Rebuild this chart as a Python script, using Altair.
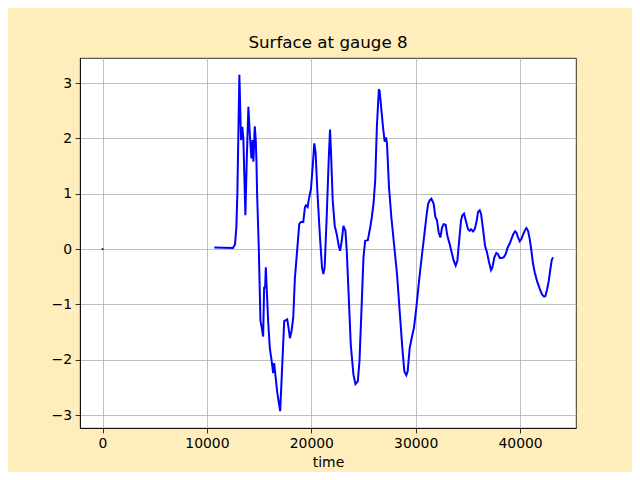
import altair as alt
import pandas as pd

time = [10705, 12500, 12692, 12820, 12917, 13109, 13269, 13397, 13494, 13686,
        13814, 13974, 14103, 14263, 14359, 14455, 14583, 14679, 14744, 14808,
        14968, 15128, 15256, 15385, 15481, 15577, 15641, 15769, 15865, 16026,
        16186, 16346, 16442, 16538, 16731, 17019, 17147, 17404, 17692, 17820,
        17949, 18109, 18269, 18429, 18590, 18846, 19006, 19231, 19391, 19487,
        19647, 19744, 19968, 20128, 20288, 20417, 20577, 20833, 21026, 21154,
        21282, 21474, 21667, 21795, 21891, 22051, 22244, 22436, 22628, 22756,
        22917, 23077, 23269, 23397, 23590, 23782, 24038, 24231, 24455, 24615,
        24840, 25000, 25160, 25417, 25641, 25801, 25962, 26122, 26282, 26474,
        26550, 26869, 27029, 27157, 27252, 27444, 27668, 27987, 28211, 28466,
        28722, 28914, 29105, 29233, 29425, 29649, 29840, 30064, 30319, 30575,
        30799, 31022, 31182, 31342, 31502, 31725, 31885, 32045, 32204, 32364,
        32524, 32684, 32875, 33035, 33259, 33450, 33642, 33834, 33994, 34153,
        34345, 34473, 34633, 34792, 35016, 35176, 35304, 35495, 35655, 35815,
        35974, 36134, 36262, 36454, 36645, 36837, 37029, 37220, 37348, 37540,
        37732, 37891, 38051, 38211, 38435, 38626, 38818, 39010, 39169, 39329,
        39521, 39649, 39808, 39968, 40128, 40288, 40447, 40607, 40767, 40927,
        41086, 41246, 41406, 41629, 41885, 42109, 42300, 42428, 42588, 42748,
        42907, 43035, 43163]

surface = [0.03, 0.02, 0.09, 0.39, 1.0, 3.15, 1.97, 2.21, 1.97, 0.61,
           1.6, 2.57, 2.09, 1.64, 1.97, 1.58, 2.22, 1.97, 1.6, 1.0,
           0.03, -1.3, -1.42, -1.58, -0.7, -0.7, -0.33, -0.88, -1.3, -1.79,
           -2.0, -2.24, -2.06, -2.24, -2.58, -2.93, -2.39, -1.3, -1.27, -1.42,
           -1.61, -1.48, -1.24, -0.52, -0.15, 0.45, 0.49, 0.49, 0.76, 0.79,
           0.76, 0.88, 1.09, 1.48, 1.91, 1.73, 1.06, 0.21, -0.33, -0.45,
           -0.33, 0.58, 1.61, 2.16, 1.73, 0.88, 0.42, 0.27, 0.06, -0.03,
           0.15, 0.42, 0.33, -0.03, -0.88, -1.73, -2.27, -2.44, -2.39, -2.03,
           -0.94, -0.15, 0.15, 0.16, 0.39, 0.58, 0.82, 1.24, 2.21, 2.89,
           2.85, 2.21, 1.94, 2.02, 1.91, 1.12, 0.58, -0.03, -0.45, -1.12,
           -1.79, -2.21, -2.28, -2.21, -1.79, -1.58, -1.42, -1.06, -0.58, -0.15,
           0.21, 0.58, 0.81, 0.88, 0.91, 0.82, 0.58, 0.52, 0.30, 0.21,
           0.39, 0.45, 0.44, 0.24, 0.09, -0.06, -0.21, -0.30, -0.21, 0.12,
           0.52, 0.61, 0.64, 0.52, 0.36, 0.33, 0.36, 0.32, 0.36, 0.48,
           0.67, 0.70, 0.64, 0.36, 0.06, -0.06, -0.24, -0.38, -0.33, -0.15,
           -0.07, -0.09, -0.16, -0.16, -0.15, -0.09, 0.03, 0.10, 0.18, 0.26,
           0.32, 0.30, 0.21, 0.14, 0.18, 0.26, 0.33, 0.38, 0.33, 0.18,
           -0.03, -0.27, -0.42, -0.58, -0.72, -0.82, -0.86, -0.85, -0.73, -0.58,
           -0.36, -0.20, -0.15]

lone_time = [0]
lone_surface = [0.0]

x_ticks = [0, 10000, 20000, 30000, 40000]
y_ticks = [-3, -2, -1, 0, 1, 2, 3]

df = pd.DataFrame({"time": time, "surface": surface})
df0 = pd.DataFrame({"time": lone_time, "surface": lone_surface})

FONT = "DejaVu Sans"

xscale = alt.Scale(domain=[-2160, 45360], nice=False, zero=False)
yscale = alt.Scale(domain=[-3.234, 3.454], nice=False, zero=False)

xaxis = alt.Axis(values=x_ticks, format="d", title="time", grid=True,
                 titlePadding=5, titleFontWeight="normal", titleFontSize=13.9,
                 titleFont=FONT, titleColor="black")
yaxis = alt.Axis(values=y_ticks, format="d", title=None, grid=True)

line = alt.Chart(df).mark_line(color="#0000ff", strokeWidth=2).encode(
    x=alt.X("time:Q", scale=xscale, axis=xaxis),
    y=alt.Y("surface:Q", scale=yscale, axis=yaxis),
    order="time:Q",
)

dot = alt.Chart(df0).mark_square(color="#000033", size=3, opacity=1).encode(
    x=alt.X("time:Q", scale=xscale),
    y=alt.Y("surface:Q", scale=yscale),
)

chart = alt.layer(line, dot).properties(
    width=496,
    height=370,
    title=alt.TitleParams("Surface at gauge 8", font=FONT, fontSize=16.7,
                          fontWeight="normal", color="black", offset=6,
                          anchor="middle"),
    background="#ffeebb",
    autosize=alt.AutoSizeParams(type="none"),
    padding={"left": 72, "top": 50, "right": 56, "bottom": 44},
).configure_view(
    stroke="black", strokeWidth=0.8, fill="white"
).configure_axis(
    labelFont=FONT, labelFontSize=13.9, labelColor="black",
    tickColor="black", tickSize=4.9, tickWidth=0.8, labelPadding=3.5,
    domainColor="black", domainWidth=0.8,
    gridColor="#b0b0b0", gridWidth=0.8,
)

chart.save("out.html", embed_options={"renderer": "svg", "actions": False})
